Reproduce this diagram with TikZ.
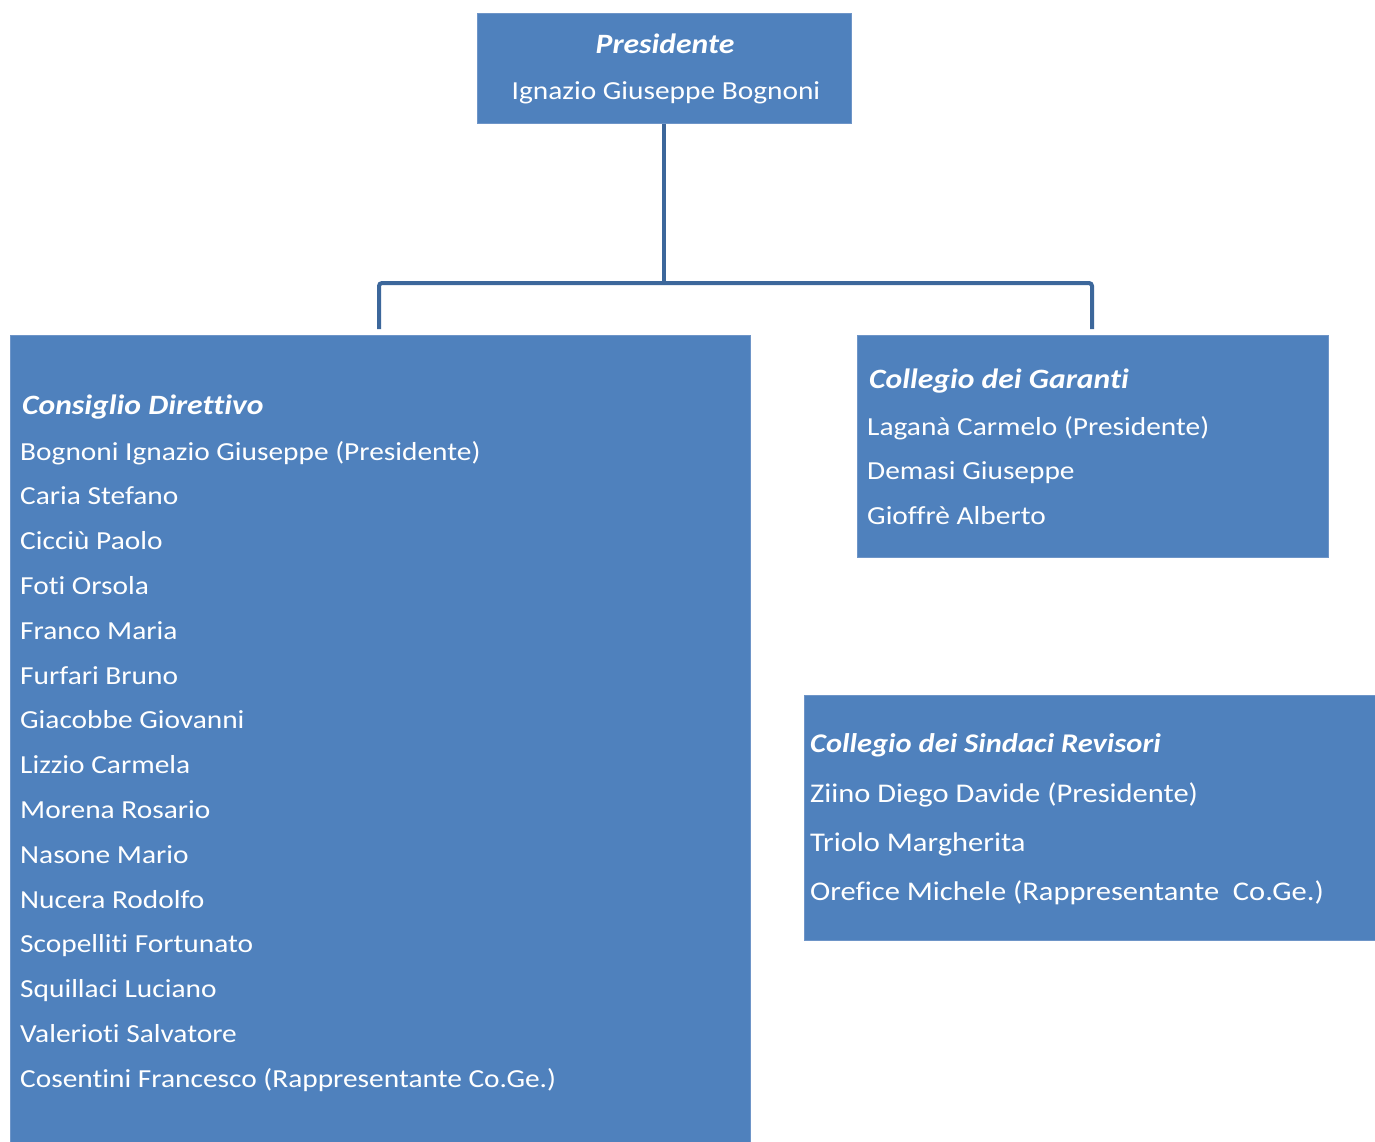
\documentclass[tikz,border=0pt]{standalone}
\usepackage{fontspec}
\setmainfont{Carlito}
\newfontfamily\widefont[FakeStretch=1.13,Ligatures=NoCommon]{Carlito}
\definecolor{boxblue}{HTML}{4F81BD}
\definecolor{boxedge}{HTML}{6E95C8}
\definecolor{linkblue}{HTML}{3C679B}
\begin{document}
\begin{tikzpicture}[x=1pt,y=-1pt,
  orgbox/.style={fill=boxblue,draw=boxedge,line width=1pt,inner sep=0pt},
  txt/.style={text=white,font=\widefont\fontsize{26}{30}\selectfont,anchor=base west,inner sep=0pt},
  ttl/.style={txt,font=\widefont\fontsize{28}{30}\selectfont\bfseries\itshape},
  stxt/.style={txt,font=\widefont\fontsize{27}{30}\selectfont},
  sttl/.style={txt,font=\widefont\fontsize{27}{30}\selectfont\bfseries\itshape},
  link/.style={draw=linkblue,line width=4pt,rounded corners=3pt}]
\useasboundingbox[fill=white] (0,0) rectangle (1375,1142);
% boxes
\path[orgbox] (477,14) rectangle (851,124);
\path[orgbox] (10,335) rectangle (750,1145);
\path[orgbox] (857,335) rectangle (1328,557);
\path[orgbox] (804,695) rectangle (1378,940);
\node (pres) at (664,124) {};
\node[ttl,anchor=base] (presT) at (665,54) {Presidente};
\node[txt,anchor=base] (presN) at (666,100) {Ignazio Giuseppe Bognoni};
% connector
\coordinate (hub) at (664,283);
\coordinate (cdTop) at (379,329);
\coordinate (cgTop) at (1092,329);
\draw[link] (pres.center) -- (hub);
\draw[link] (cdTop) -- (379,283) -- (1092,283) -- (cgTop);
% Consiglio Direttivo
\node[ttl] (cdT) at (22,414) {Consiglio Direttivo};
\foreach \t [count=\i] in {Bognoni Ignazio Giuseppe (Presidente),Caria Stefano,Cicciù Paolo,Foti Orsola,Franco Maria,Furfari Bruno,Giacobbe Giovanni,Lizzio Carmela,Morena Rosario,Nasone Mario,Nucera Rodolfo,Scopelliti Fortunato,Squillaci Luciano,Valerioti Salvatore,Cosentini Francesco (Rappresentante Co.Ge.)}
  \node[txt] (cd\i) at (20,{460+44.8*(\i-1)}) {\t};
% Collegio dei Garanti
\node[ttl] (cgT) at (869,388) {Collegio dei Garanti};
\node[txt] (cg1) at (867,435) {Laganà Carmelo (Presidente)};
\node[txt] (cg2) at (867,479) {Demasi Giuseppe};
\node[txt] (cg3) at (867,524) {Gioffrè Alberto};
% Collegio dei Sindaci Revisori
\node[sttl] (csT) at (810,752) {Collegio dei Sindaci Revisori};
\node[stxt] (cs1) at (810,802) {Ziino Diego Davide (Presidente)};
\node[stxt] (cs2) at (810,851) {Triolo Margherita};
\node[stxt] (cs3) at (810,900) {Orefice Michele (Rappresentante\ \ Co.Ge.)};
\end{tikzpicture}
\end{document}
